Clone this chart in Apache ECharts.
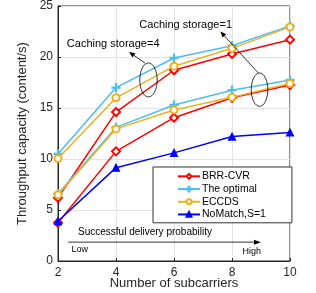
<!DOCTYPE html>
<html><head><meta charset="utf-8">
<script src="https://cdn.jsdelivr.net/npm/echarts@6/dist/echarts.min.js"></script>
<style>html,body{margin:0;padding:0;background:#fff}#c{width:316px;height:293px}</style>
</head><body><div id="c"></div>
<script>
const xVals = [2, 4, 6, 8, 10];
const brrS4 = [6.2, 14.6, 18.7, 20.3, 21.7];
const optS4 = [10.5, 17.0, 19.9, 21.1, 23.05];
const eccS4 = [10.05, 16.0, 19.1, 20.85, 22.95];
const brrS1 = [3.75, 10.75, 14.05, 16.0, 17.25];
const optS1 = [6.6, 13.1, 15.3, 16.75, 17.75];
const eccS1 = [6.5, 12.95, 14.8, 16.05, 17.4];
const noMatch = [3.9, 9.15, 10.6, 12.2, 12.6];
const names = ['BRR-CVR', 'The optimal', 'ECCDS', 'NoMatch,S=1'];
const colors = ['#ff0000', '#4dbeee', '#edb120', '#0000ff'];
const FONT = '"Liberation Sans", Arial, Helvetica, sans-serif';
const plus = 'path://M4.3,0H5.7V4.3H10V5.7H5.7V10H4.3V5.7H0V4.3H4.3Z';

function pts(arr) { return xVals.map((x, i) => [x, arr[i]]); }
function mk(name, data, color, symbol, size, z) {
  return { name, type: 'line', data: pts(data), symbol, symbolSize: size, z,
    lineStyle: { color, width: 1.5 }, itemStyle: { color, borderColor: color, borderWidth: 1.2 },
    showSymbol: true, animation: false };
}
const chart = echarts.init(document.getElementById('c'), null, { renderer: 'canvas' });
chart.setOption({
  animation: false,
  textStyle: { fontFamily: FONT },
  grid: { left: 58, right: 26, top: 6, bottom: 32, outerBoundsMode: 'none', containLabel: false, show: true, borderColor: '#262626', borderWidth: 1, backgroundColor: 'transparent' },
  xAxis: { type: 'value', min: 2, max: 10, interval: 2, name: 'Number of subcarriers', nameLocation: 'middle', nameGap: 16, nameMoveOverlap: false,
    nameTextStyle: { fontSize: 13, color: '#262626', fontFamily: FONT },
    axisLine: { lineStyle: { color: '#262626' } }, axisTick: { inside: true, length: 3, lineStyle: { color: '#262626' } },
    axisLabel: { fontSize: 12, color: '#262626', margin: 6, fontFamily: FONT },
    splitLine: { show: true, lineStyle: { color: '#e3e3e3', width: 1 } } },
  yAxis: { type: 'value', min: 0, max: 25, interval: 5, name: 'Throughput capacity (content/s)', nameLocation: 'middle', nameGap: 29, nameMoveOverlap: false,
    nameTextStyle: { fontSize: 13, color: '#262626', fontFamily: FONT },
    axisLine: { show: true, lineStyle: { color: '#262626' } }, axisTick: { show: true, inside: true, length: 3, lineStyle: { color: '#262626' } },
    axisLabel: { fontSize: 12, color: '#262626', margin: 5, fontFamily: FONT },
    splitLine: { show: true, lineStyle: { color: '#e3e3e3', width: 1 } } },
  legend: { data: names, orient: 'vertical', left: 153, top: 167, itemWidth: 22, itemHeight: 6, itemGap: 0,
    padding: [3, 26, 2, 24], borderColor: '#333', borderWidth: 1, backgroundColor: '#fff',
    textStyle: { fontSize: 10.5, color: '#000', fontFamily: FONT, padding: [0, 0, 0, -3], lineHeight: 12.7 } },
  series: [
    mk(names[0], brrS4, colors[0], 'emptyDiamond', 8, 3),
    mk(names[0], brrS1, colors[0], 'emptyDiamond', 8, 3),
    mk(names[1], optS4, colors[1], plus, 8, 4),
    mk(names[1], optS1, colors[1], plus, 8, 4),
    mk(names[2], eccS4, colors[2], 'emptyCircle', 7, 5),
    mk(names[2], eccS1, colors[2], 'emptyCircle', 7, 5),
    mk(names[3], noMatch, colors[3], 'triangle', 7, 6)
  ]
});

function P(x, y) { return chart.convertToPixel({ gridIndex: 0 }, [x, y]); }
function arrow(x1, y1, x2, y2, head) {
  const a = Math.atan2(y2 - y1, x2 - x1), L = head || 6, W = 2.5;
  const bx = x2 - L * Math.cos(a), by = y2 - L * Math.sin(a);
  const px = -Math.sin(a) * W, py = Math.cos(a) * W;
  return [
    { type: 'line', shape: { x1, y1, x2: bx, y2: by }, style: { stroke: '#000', lineWidth: 0.8 }, z: 20 },
    { type: 'polygon', shape: { points: [[x2, y2], [bx + px, by + py], [bx - px, by - py]] }, style: { fill: '#000' }, z: 20 }
  ];
}
const e1 = P(5.12, 17.75), e2 = P(8.95, 16.8);
const t4 = P(5.5, 21.25), t1 = P(8.0, 23.1);
const a4s = P(5.0, 19.4), a4e = P(4.45, 20.5);
const a1s = P(8.9, 18.45), a1e = P(7.6, 22.5);
const sd = P(5.0, 2.85), ar0 = P(2.35, 1.85), ar1 = P(9.0, 1.85);
const low = P(2.75, 1.15), high = P(9.0, 0.95);
const g = [
  { type: 'ellipse', shape: { cx: e1[0], cy: e1[1], rx: 8.7, ry: 17 }, style: { fill: 'none', stroke: '#000', lineWidth: 0.8 }, z: 20 },
  { type: 'ellipse', shape: { cx: e2[0], cy: e2[1], rx: 8.3, ry: 16.7 }, style: { fill: 'none', stroke: '#000', lineWidth: 0.8 }, z: 20 },
  { type: 'text', x: t4[0], y: t4[1], style: { text: 'Caching storage=4', font: '11px ' + FONT, fill: '#000', align: 'right', verticalAlign: 'middle' }, z: 20 },
  { type: 'text', x: t1[0], y: t1[1], style: { text: 'Caching storage=1', font: '11px ' + FONT, fill: '#000', align: 'right', verticalAlign: 'middle' }, z: 20 },
  ...arrow(a4s[0], a4s[1], a4e[0], a4e[1], 6),
  ...arrow(a1s[0], a1s[1], a1e[0], a1e[1], 6),
  { type: 'text', x: sd[0], y: sd[1], style: { text: 'Successful delivery probability', font: '10px ' + FONT, fill: '#000', align: 'center', verticalAlign: 'middle' }, z: 20 },
  ...arrow(ar0[0], ar0[1], ar1[0], ar1[1], 7),
  { type: 'text', x: low[0], y: low[1], style: { text: 'Low', font: '9px ' + FONT, fill: '#000', align: 'center', verticalAlign: 'middle' }, z: 20 },
  { type: 'text', x: high[0], y: high[1], style: { text: 'High', font: '9px ' + FONT, fill: '#000', align: 'right', verticalAlign: 'middle' }, z: 20 }
];
chart.setOption({ graphic: g });
</script></body></html>
